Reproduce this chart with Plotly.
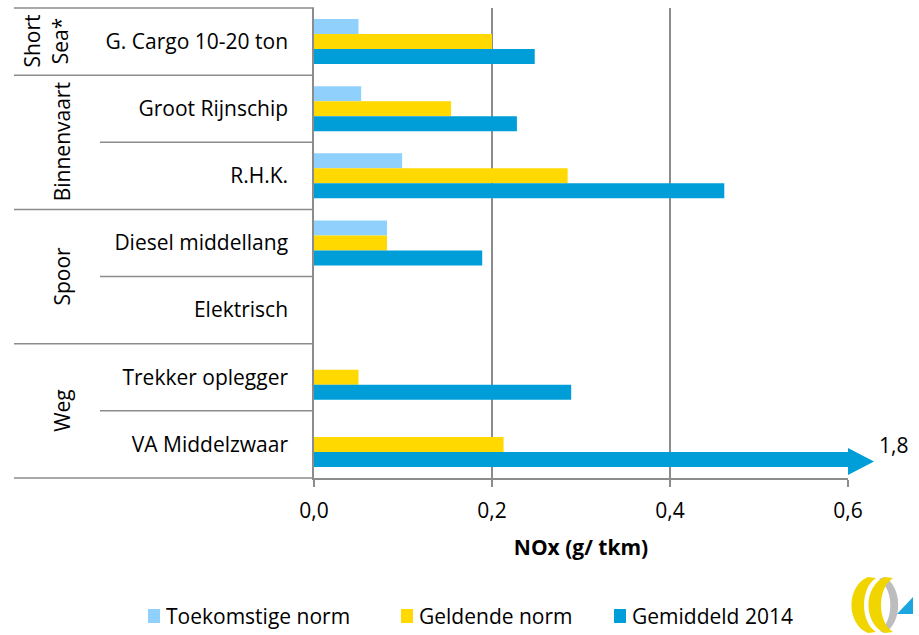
import plotly.graph_objects as go

# categorieen (van boven naar beneden) en groepen
categories = [
    "G. Cargo 10-20 ton",
    "Groot Rijnschip",
    "R.H.K.",
    "Diesel middellang",
    "Elektrisch",
    "Trekker oplegger",
    "VA Middelzwaar",
]
group_names = ["Short<br>Sea*", "Binnenvaart", "Spoor", "Weg"]
group_sizes = [1, 2, 2, 2]

series_names = ["Toekomstige norm", "Geldende norm", "Gemiddeld 2014"]
toekomstige_norm = [0.05, 0.053, 0.099, 0.082, None, None, None]
geldende_norm = [0.2, 0.154, 0.285, 0.082, None, 0.05, 0.213]
gemiddeld_2014 = [0.248, 0.228, 0.461, 0.189, None, 0.289, 1.8]

x_ticks = [0.0, 0.2, 0.4, 0.6]
x_max = 0.6

COLORS = ["#8FD1FC", "#FFD900", "#009ED8"]
GRID = "#8c8c8c"
FONT = "Open Sans"
FS = 21

W, H = 919, 635
L, R, T, B = 314, 71, 8, 157
PW, PH = W - L - R, H - T - B


def px(x):
    return (x - L) / PW


def py(y):
    return (H - B - y) / PH


fig = go.Figure()
for name, vals, color in zip(series_names,
                             [toekomstige_norm, geldende_norm, gemiddeld_2014],
                             COLORS):
    fig.add_trace(go.Bar(
        y=categories, x=vals, name=name, orientation="h",
        marker=dict(color=color, line=dict(width=0)),
        showlegend=False,
    ))

shapes = []
annotations = []

# lijnen van de categorie-tabel links
n = len(categories)
bounds = [0]
for s in group_sizes:
    bounds.append(bounds[-1] + s)
for k in range(n + 1):
    yk = 1 - k / n
    x0 = px(14) if k in bounds else px(100)
    shapes.append(dict(type="line", xref="paper", yref="paper",
                       x0=x0, x1=0, y0=yk, y1=yk,
                       line=dict(color=GRID, width=1.5)))

# groepslabels
for name, start, size in zip(group_names, bounds[:-1], group_sizes):
    ymid = 1 - (start + size / 2) / n
    xc = 46 if "<br>" in name else 62
    annotations.append(dict(
        text=name, xref="paper", yref="paper", x=px(xc), y=ymid,
        xanchor="center", yanchor="middle", textangle=-90, showarrow=False,
        font=dict(family=FONT, size=FS, color="#000"),
    ))

# pijlpunt voor de afgekapte balk + waarde
big = gemiddeld_2014[-1]
y_bar = 461.5
shapes.append(dict(
    type="path", xref="paper", yref="paper",
    path=(f"M{px(848)},{py(y_bar - 13.5)} L{px(874)},{py(y_bar)} "
          f"L{px(848)},{py(y_bar + 13.5)} Z"),
    fillcolor=COLORS[2], line=dict(width=0),
))
annotations.append(dict(
    text=f"{big:.1f}".replace(".", ","), xref="paper", yref="paper",
    x=px(893), y=py(445), xanchor="center", yanchor="middle",
    showarrow=False, font=dict(family=FONT, size=FS, color="#000"),
))

# legenda
legend_x = [148, 401, 614]
for name, color, lx in zip(series_names, COLORS, legend_x):
    shapes.append(dict(type="rect", xref="paper", yref="paper",
                       x0=px(lx), x1=px(lx + 12), y0=py(623), y1=py(609),
                       fillcolor=color, line=dict(width=0)))
    annotations.append(dict(
        text=name, xref="paper", yref="paper", x=px(lx + 16), y=py(616),
        xanchor="left", yanchor="middle", showarrow=False,
        font=dict(family=FONT, size=FS, color="#000"),
    ))


# logo (benadering)
def crescent(x0, w_out=20, w_in=9):
    return (f"M{px(x0 + 16)},{py(577)} "
            f"C{px(x0 - 6)},{py(586)} {px(x0 - 6)},{py(624)} {px(x0 + 16)},{py(633)} "
            f"L{px(x0 + 24)},{py(632)} "
            f"C{px(x0 + 8)},{py(622)} {px(x0 + 8)},{py(588)} {px(x0 + 24)},{py(578)} Z")


shapes.append(dict(type="path", xref="paper", yref="paper",
                   path=(f"M{px(884)},{py(577)} "
                         f"C{px(903)},{py(586)} {px(903)},{py(624)} {px(884)},{py(633)} "
                         f"L{px(880)},{py(631)} "
                         f"C{px(894)},{py(620)} {px(894)},{py(590)} {px(879)},{py(579)} Z"),
                   fillcolor="#bdbdbd", line=dict(width=0)))
for x0 in (852, 869):
    shapes.append(dict(type="path", xref="paper", yref="paper",
                       path=crescent(x0), fillcolor="#F0D500", line=dict(width=0)))
shapes.append(dict(type="path", xref="paper", yref="paper",
                   path=f"M{px(897)},{py(614)} L{px(913)},{py(614)} L{px(913)},{py(597)} Z",
                   fillcolor="#1BA6E0", line=dict(width=0)))

fig.update_layout(
    width=W, height=H,
    margin=dict(l=L, r=R, t=T, b=B),
    paper_bgcolor="white", plot_bgcolor="white",
    barmode="group", bargap=0.33, bargroupgap=0,
    separators=", ",
    font=dict(family=FONT, size=FS, color="#000"),
    shapes=shapes, annotations=annotations,
    showlegend=False,
)
fig.update_xaxes(
    range=[0, x_max], tickvals=x_ticks, tickformat=".1f",
    showgrid=True, gridcolor=GRID, gridwidth=1.5, zeroline=False,
    showline=True, linecolor=GRID, linewidth=1.5,
    ticks="outside", ticklen=7, tickcolor=GRID, tickwidth=1.5,
    ticklabelstandoff=6,
    title=dict(text="<b>NOx (g/ tkm)</b>", standoff=17,
               font=dict(family=FONT, size=FS)),
)
fig.update_yaxes(
    autorange="reversed", showgrid=False, zeroline=False,
    showline=True, linecolor=GRID, linewidth=1.5, ticks="",
    ticklabelstandoff=20,
)

fig.write_html("out.html", config={"displayModeBar": False},
               post_script="document.body.style.margin='0';")
